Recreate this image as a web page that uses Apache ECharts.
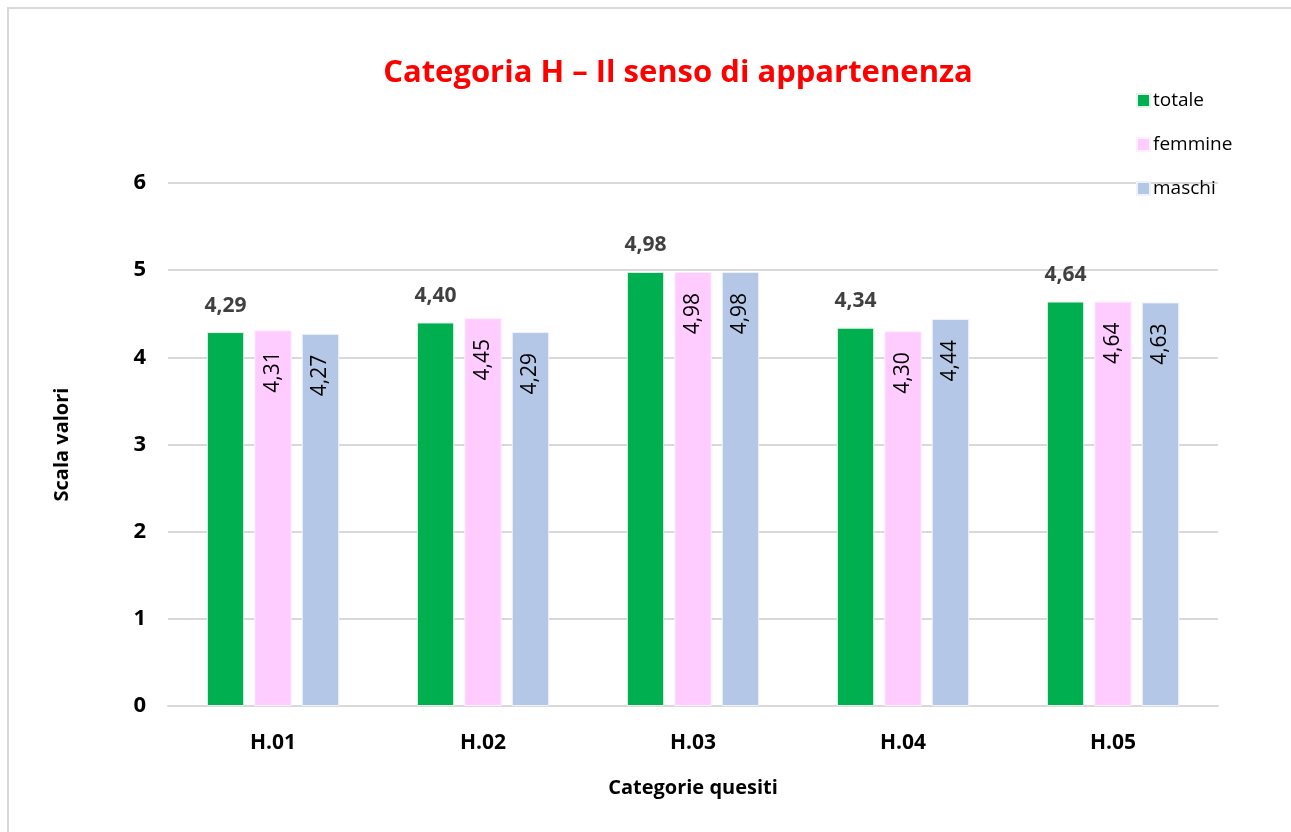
<!DOCTYPE html>
<html>
<head>
<meta charset="utf-8">
<title>Categoria H</title>
<script src="https://cdn.jsdelivr.net/npm/echarts@6/dist/echarts.min.js"></script>
<style>
  html, body { margin: 0; padding: 0; background: #fff; overflow: hidden; }
  #main { width: 1291px; height: 832px; }
</style>
</head>
<body>
<div id="main"></div>
<script>
var categories = ["H.01", "H.02", "H.03", "H.04", "H.05"];
var totale = [4.29, 4.40, 4.98, 4.34, 4.64];
var femmine = [4.31, 4.45, 4.98, 4.30, 4.64];
var maschi = [4.27, 4.29, 4.98, 4.44, 4.63];

var font = "Open Sans";
function fmt(p) {
  return p.value.toFixed(2).replace(".", ",");
}

var sideLabel = {
  show: true,
  position: "insideTop",
  rotate: 90,
  align: "right",
  verticalAlign: "middle",
  distance: 21,
  color: "#000",
  fontFamily: font,
  fontSize: 21,
  formatter: fmt,
};

var myChart = echarts.init(document.getElementById("main"), null, { renderer: "canvas" });
myChart.setOption({
  backgroundColor: "#fff",
  // cornice del grafico (solo bordo sinistro e superiore visibili)
  graphic: [
    {
      type: "polyline",
      shape: { points: [[8, 840], [8, 8], [1300, 8]] },
      style: { stroke: "#d9d9d9", lineWidth: 2, fill: null },
      silent: true,
    },
  ],
  title: {
    text: "Categoria H \u2013 Il senso di appartenenza",
    left: 673,
    top: 53,
    textAlign: "center",
    textStyle: { color: "#ff0000", fontFamily: font, fontWeight: "bold", fontSize: 31 },
  },
  legend: {
    orient: "vertical",
    left: 1131,
    top: 86,
    itemWidth: 13,
    itemHeight: 13,
    itemGap: 25,
    icon: "rect",
    textStyle: { color: "#000", fontFamily: font, fontSize: 19, padding: [0, 0, 0, -2] },
    data: ["totale", "femmine", "maschi"],
  },
  grid: { left: 168, right: 73, top: 183, bottom: 126 },
  xAxis: {
    type: "category",
    data: categories,
    name: "Categorie quesiti",
    nameLocation: "middle",
    nameGap: 72,
    nameTextStyle: { color: "#000", fontFamily: font, fontWeight: "bold", fontSize: 20 },
    axisLine: { lineStyle: { color: "#d9d9d9", width: 2 } },
    axisTick: { show: false },
    axisLabel: { color: "#000", fontFamily: font, fontWeight: "bold", fontSize: 21, margin: 27 },
  },
  yAxis: {
    type: "value",
    min: 0,
    max: 6,
    interval: 1,
    name: "Scala valori",
    nameLocation: "middle",
    nameGap: 96,
    nameTextStyle: { color: "#000", fontFamily: font, fontWeight: "bold", fontSize: 20 },
    axisLine: { show: false },
    axisTick: { show: false },
    axisLabel: { color: "#000", fontFamily: font, fontWeight: "bold", fontSize: 22, margin: 22 },
    splitLine: { lineStyle: { color: "#d9d9d9", width: 2 } },
  },
  series: [
    {
      name: "totale",
      type: "bar",
      data: totale,
      barGap: "27%",
      barCategoryGap: "37%",
      itemStyle: { color: "#00b050", borderColor: "#e8f5ec", borderWidth: 1 },
      label: {
        show: true,
        position: "top",
        distance: 16,
        color: "#404040",
        fontFamily: font,
        fontWeight: "bold",
        fontSize: 21,
        formatter: fmt,
      },
    },
    {
      name: "femmine",
      type: "bar",
      data: femmine,
      itemStyle: { color: "#ffccff", borderColor: "#fff0ff", borderWidth: 1 },
      label: sideLabel,
    },
    {
      name: "maschi",
      type: "bar",
      data: maschi,
      itemStyle: { color: "#b4c7e7", borderColor: "#eef2fa", borderWidth: 1 },
      label: sideLabel,
    },
  ],
});
window.addEventListener("resize", function () {
  myChart.resize();
});
</script>
</body>
</html>
